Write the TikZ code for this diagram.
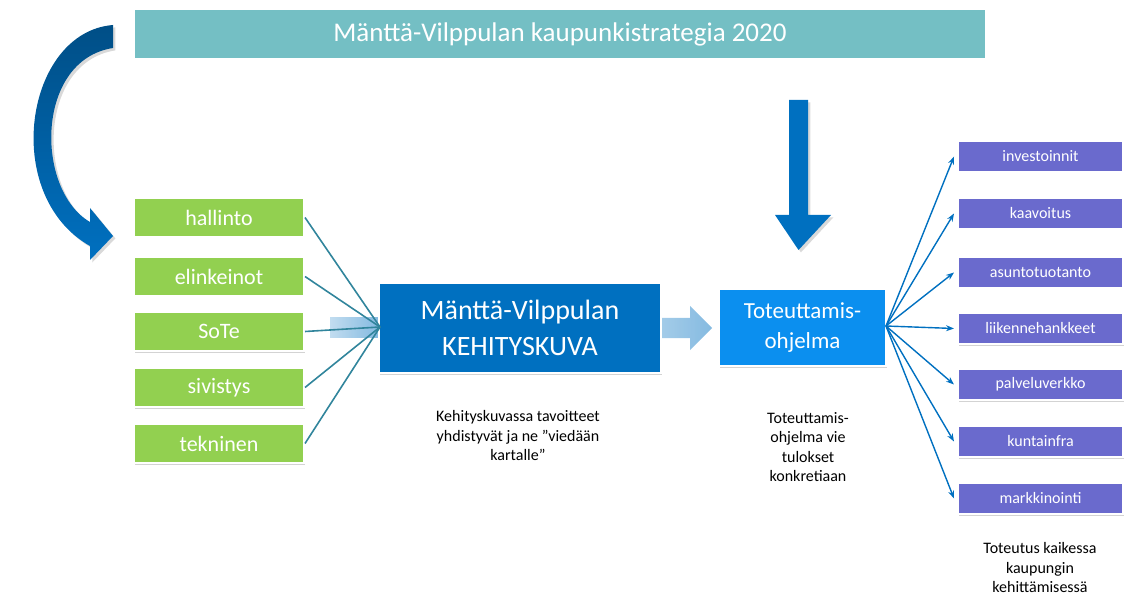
\documentclass[tikz,border=0pt]{standalone}
\usepackage{fontspec}
\setmainfont{Carlito}
\usetikzlibrary{shadows,arrows.meta}
\definecolor{tealbox}{HTML}{74BFC4}
\definecolor{grn}{HTML}{92D050}
\definecolor{mblue}{HTML}{0070C0}
\definecolor{lblue}{HTML}{0B8FEF}
\definecolor{purp}{HTML}{6A6ACD}
\definecolor{tline}{HTML}{31859C}
\tikzset{
 box/.style={draw=white,line width=2pt,inner sep=0pt,anchor=north west,text=white,drop shadow={shadow xshift=1pt,shadow yshift=-1.5pt,opacity=0.35}},
 gbox/.style={box,fill=grn,minimum width=170pt,minimum height=39pt,font=\fontsize{22}{24}\selectfont},
 pbox/.style={box,fill=purp,minimum width=165pt,minimum height=31pt,font=\fontsize{16}{18}\selectfont},
 note/.style={align=center,font=\fontsize{16}{19.5}\selectfont},
 tl/.style={tline,line width=1.6pt},
 bl/.style={mblue,line width=1.4pt,-{Stealth[length=8pt,width=6pt]}}
}
\begin{document}
\begin{tikzpicture}[x=1pt,y=-1pt]
\useasboundingbox (0,0) rectangle (1145,601);
% curved arrow
\shade[top color=mblue!70!black,bottom color=mblue,drop shadow={opacity=0.3}]
 (113,25) .. controls (25,32) and (0,195) .. (90,246) -- (90,260) -- (113,236) -- (90,208) -- (90,222)
 .. controls (35,190) and (35,60) .. (113,48) -- cycle;
% title
\node[box,fill=tealbox,minimum width=852pt,minimum height=50pt,font=\fontsize{27}{30}\selectfont] (t) at (133,8) {Mänttä-Vilppulan kaupunkistrategia 2020};
% big down arrow
\fill[mblue,drop shadow={opacity=0.3}] (789,100) -- (808,100) -- (808,215) -- (831,215) -- (798.5,250) -- (775,215) -- (789,215) -- cycle;
% faded arrows
\shade[left color=mblue!30,right color=mblue!60,opacity=0.8] (330,318) rectangle (378,337);
\shade[left color=mblue!45,right color=mblue!60,opacity=0.8] (662,318) -- (690,318) -- (690,306) -- (712,328) -- (690,350) -- (690,338) -- (662,338) -- cycle;
% green
\node[gbox] (g1) at (133,197) {hallinto};
\node[gbox] (g2) at (133,256) {elinkeinot};
\node[gbox] (g3) at (133,311) {SoTe};
\node[gbox] (g4) at (133,367) {sivistys};
\node[gbox] (g5) at (133,423) {tekninen};
% main
\node[box,fill=mblue,minimum width=282pt,minimum height=90pt,align=center,font=\fontsize{28}{36}\selectfont] (m) at (378,282) {Mänttä-Vilppulan\\KEHITYSKUVA};
\node[box,fill=lblue,minimum width=167pt,minimum height=77pt,align=center,font=\fontsize{23}{30}\selectfont] (o) at (718,288) {Toteuttamis-\\ohjelma};
\coordinate (mi) at (380,327);
\foreach \i in {1,...,5} \draw[tl] (g\i.east) -- (mi);
% purple
\node[pbox] (p1) at (957,140) {investoinnit};
\node[pbox] (p2) at (957,197) {kaavoitus};
\node[pbox] (p3) at (957,256) {asuntotuotanto};
\node[pbox] (p4) at (957,312) {liikennehankkeet};
\node[pbox] (p5) at (957,368) {palveluverkko};
\node[pbox] (p6) at (957,425) {kuntainfra};
\node[pbox] (p7) at (957,482) {markkinointi};
\coordinate (oo) at (886,326);
\foreach \i in {1,...,7} \draw[bl] (oo) -- ([xshift=-3pt]p\i.west);
% notes
\node[note] (n1) at (518,436) {Kehityskuvassa tavoitteet\\yhdistyvät ja ne ”viedään\\kartalle”};
\node[note] (n2) at (808,447) {Toteuttamis-\\ohjelma vie\\tulokset\\konkretiaan};
\node[note] (n3) at (1040,568) {Toteutus kaikessa\\kaupungin\\kehittämisessä};
\end{tikzpicture}
\end{document}
